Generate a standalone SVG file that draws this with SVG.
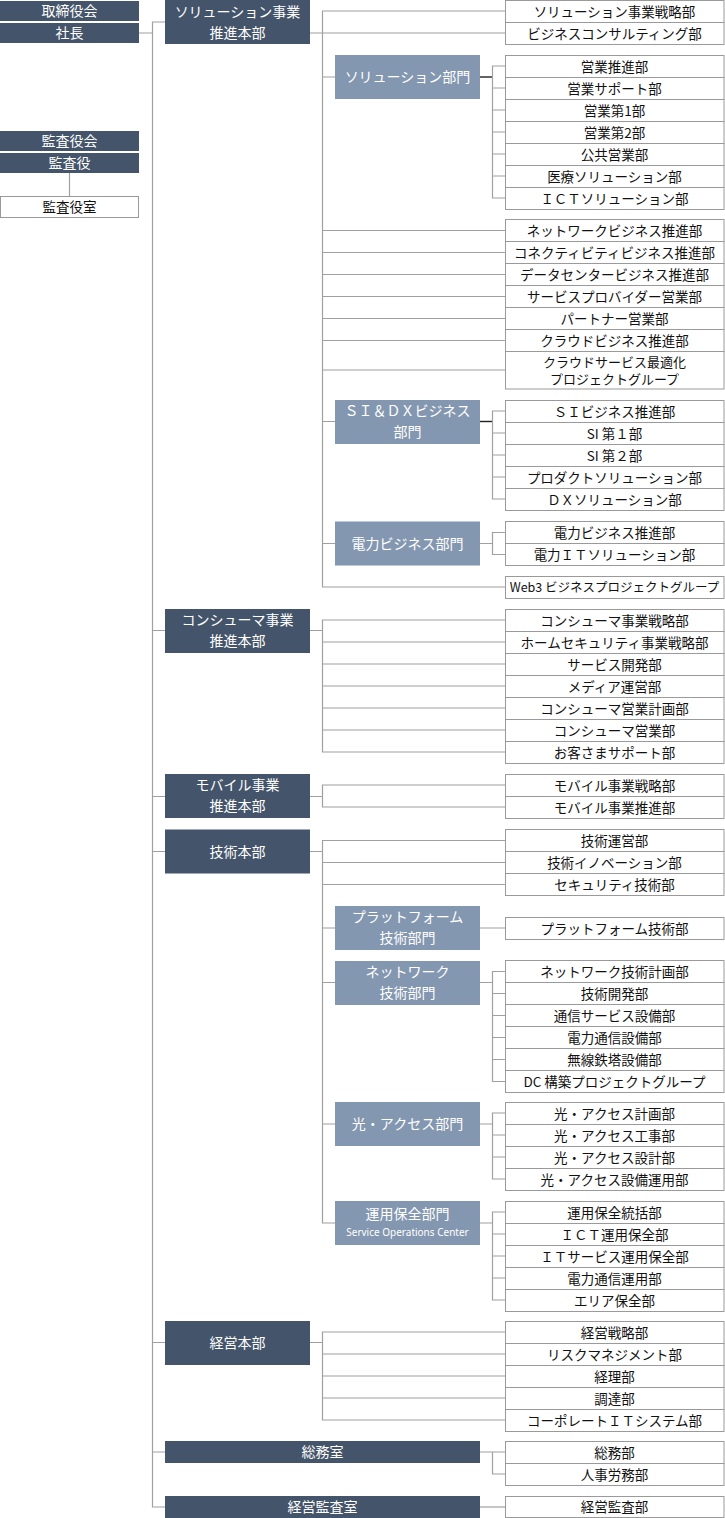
<svg xmlns="http://www.w3.org/2000/svg" width="725" height="1518" viewBox="0 0 725 1518">
<style>
text{font-family:"Noto Sans CJK JP","Noto Sans",sans-serif;text-anchor:middle;dominant-baseline:central;transform:translateY(-1px)}
.d{fill:#44546a}
.l{fill:#8497b0}
.w{fill:#fff;stroke:#9a9a9a;stroke-width:1}
.tw{fill:#fff;font-size:14px}
.tb{fill:#111;font-size:13.5px}
.tn{fill:#111;font-size:12.5px}
.t2{fill:#111;font-size:13px}
.ts{fill:#fff;font-size:10px;font-family:"Noto Sans","Open Sans",sans-serif}
.ln{fill:none;stroke:#a0a0a0;stroke-width:1.2}
.dk{fill:none;stroke:#222;stroke-width:1.4}
</style>
<rect width="725" height="1518" fill="#fff"/>
<g id="connectors">
<path class="ln" d="M139 33H152.5M165 22H152.5V1507H165M152.5 630.5H165M152.5 796.5H165M152.5 851.5H165M152.5 1342.5H165M152.5 1452H165"/>
<path class="ln" d="M69.5 173V196"/>
<path class="ln" d="M505 11H322.5V587H505M310 33H505M322.5 77H335M322.5 230.5H505M322.5 252.5H505M322.5 274.5H505M322.5 296.5H505M322.5 318.5H505M322.5 340.5H505M322.5 370H505M322.5 421.5H335M322.5 543.5H335"/>
<path class="dk" d="M480 77H492.5"/>
<path class="ln" d="M505 66H492.5V198H505M492.5 88H505M492.5 110H505M492.5 132H505M492.5 154H505M492.5 176H505"/>
<path class="dk" d="M480 421.5H492.5"/>
<path class="ln" d="M505 411H492.5V499H505M492.5 433H505M492.5 455H505M492.5 477H505"/>
<path class="ln" d="M480 543.5H492.5M505 532.5H492.5V554.5H505"/>
<path class="ln" d="M310 630.5H322.5M505 620H322.5V752H505M322.5 642H505M322.5 664H505M322.5 686H505M322.5 708H505M322.5 730H505"/>
<path class="ln" d="M310 796.5H322.5M505 785H322.5V807H505"/>
<path class="ln" d="M310 851.5H322.5M505 840.5H322.5V1223H335M322.5 862.5H505M322.5 884.5H505M322.5 928H335M322.5 982.5H335M322.5 1124H335M480 928H505"/>
<path class="ln" d="M480 982.5H492.5M505 971.5H492.5V1081.5H505M492.5 993.5H505M492.5 1015.5H505M492.5 1037.5H505M492.5 1059.5H505"/>
<path class="ln" d="M480 1124H492.5M505 1113H492.5V1179H505M492.5 1135H505M492.5 1157H505"/>
<path class="ln" d="M480 1223H492.5M505 1212H492.5V1300H505M492.5 1234H505M492.5 1256H505M492.5 1278H505"/>
<path class="ln" d="M310 1342.5H322.5M505 1332H322.5V1420H505M322.5 1354H505M322.5 1376H505M322.5 1398H505"/>
<path class="ln" d="M480 1452H505M492.5 1452V1474H505"/>
<path class="ln" d="M480 1507H505"/>
</g>
<g id="torishimariyakukai"><rect class="d" x="0" y="1" width="139" height="20"/><text class="tw" x="69.5" y="11">取締役会</text></g>
<g id="shacho"><rect class="d" x="0" y="23" width="139" height="20"/><text class="tw" x="69.5" y="33">社長</text></g>
<g id="kansayakukai"><rect class="d" x="0" y="131" width="139" height="20"/><text class="tw" x="69.5" y="141">監査役会</text></g>
<g id="kansayaku"><rect class="d" x="0" y="153" width="139" height="20"/><text class="tw" x="69.5" y="163">監査役</text></g>
<g id="kansayakushitsu"><rect class="w" x="0.5" y="196.5" width="138" height="21"/><text class="tb" x="69.5" y="207">監査役室</text></g>

<g id="sol-hq"><rect class="d" x="165" y="0" width="145" height="44"/><text class="tw" x="237.5" y="11.5">ソリューション事業</text><text class="tw" x="237.5" y="32.5">推進本部</text></g>
<g id="sol-c1"><rect class="w" x="505.5" y="0.5" width="218.5" height="22"/><text class="tb" x="614.5" y="11.5">ソリューション事業戦略部</text></g>
<g id="sol-c2"><rect class="w" x="505.5" y="22.5" width="218.5" height="22"/><text class="tb" x="614.5" y="33.5">ビジネスコンサルティング部</text></g>

<g id="sol-div"><rect class="l" x="335" y="55" width="145" height="44"/><text class="tw" x="407.5" y="77">ソリューション部門</text></g>
<g id="sol-div-c1"><rect class="w" x="505.5" y="55.5" width="218.5" height="22"/><text class="tb" x="614.5" y="66.5">営業推進部</text></g>
<g id="sol-div-c2"><rect class="w" x="505.5" y="77.5" width="218.5" height="22"/><text class="tb" x="614.5" y="88.5">営業サポート部</text></g>
<g id="sol-div-c3"><rect class="w" x="505.5" y="99.5" width="218.5" height="22"/><text class="tb" x="614.5" y="110.5">営業第1部</text></g>
<g id="sol-div-c4"><rect class="w" x="505.5" y="121.5" width="218.5" height="22"/><text class="tb" x="614.5" y="132.5">営業第2部</text></g>
<g id="sol-div-c5"><rect class="w" x="505.5" y="143.5" width="218.5" height="22"/><text class="tb" x="614.5" y="154.5">公共営業部</text></g>
<g id="sol-div-c6"><rect class="w" x="505.5" y="165.5" width="218.5" height="22"/><text class="tb" x="614.5" y="176.5">医療ソリューション部</text></g>
<g id="sol-div-c7"><rect class="w" x="505.5" y="187.5" width="218.5" height="22"/><text class="tb" x="614.5" y="198.5">ＩＣＴソリューション部</text></g>

<g id="sol-m1"><rect class="w" x="505.5" y="219.5" width="218.5" height="22"/><text class="tb" x="614.5" y="230.5">ネットワークビジネス推進部</text></g>
<g id="sol-m2"><rect class="w" x="505.5" y="241.5" width="218.5" height="22"/><text class="tb" x="614.5" y="252.5">コネクティビティビジネス推進部</text></g>
<g id="sol-m3"><rect class="w" x="505.5" y="263.5" width="218.5" height="22"/><text class="tb" x="614.5" y="274.5">データセンタービジネス推進部</text></g>
<g id="sol-m4"><rect class="w" x="505.5" y="285.5" width="218.5" height="22"/><text class="tb" x="614.5" y="296.5">サービスプロバイダー営業部</text></g>
<g id="sol-m5"><rect class="w" x="505.5" y="307.5" width="218.5" height="22"/><text class="tb" x="614.5" y="318.5">パートナー営業部</text></g>
<g id="sol-m6"><rect class="w" x="505.5" y="329.5" width="218.5" height="22"/><text class="tb" x="614.5" y="340.5">クラウドビジネス推進部</text></g>
<g id="sol-m7"><rect class="w" x="505.5" y="351.5" width="218.5" height="37.5"/><text class="t2" x="614.5" y="362">クラウドサービス最適化</text><text class="t2" x="614.5" y="379">プロジェクトグループ</text></g>

<g id="sidx-div"><rect class="l" x="335" y="400" width="145" height="44"/><text class="tw" x="407.5" y="410.5">ＳＩ＆ＤＸビジネス</text><text class="tw" x="407.5" y="431.5">部門</text></g>
<g id="sidx-c1"><rect class="w" x="505.5" y="400.5" width="218.5" height="22"/><text class="tb" x="614.5" y="411.5">ＳＩビジネス推進部</text></g>
<g id="sidx-c2"><rect class="w" x="505.5" y="422.5" width="218.5" height="22"/><text class="tb" x="614.5" y="433.5">SI 第１部</text></g>
<g id="sidx-c3"><rect class="w" x="505.5" y="444.5" width="218.5" height="22"/><text class="tb" x="614.5" y="455.5">SI 第２部</text></g>
<g id="sidx-c4"><rect class="w" x="505.5" y="466.5" width="218.5" height="22"/><text class="tb" x="614.5" y="477.5">プロダクトソリューション部</text></g>
<g id="sidx-c5"><rect class="w" x="505.5" y="488.5" width="218.5" height="22"/><text class="tb" x="614.5" y="499.5">ＤＸソリューション部</text></g>

<g id="denryoku-div"><rect class="l" x="335" y="521.5" width="145" height="44"/><text class="tw" x="407.5" y="543.5">電力ビジネス部門</text></g>
<g id="denryoku-c1"><rect class="w" x="505.5" y="521.5" width="218.5" height="22"/><text class="tb" x="614.5" y="532.5">電力ビジネス推進部</text></g>
<g id="denryoku-c2"><rect class="w" x="505.5" y="543.5" width="218.5" height="22"/><text class="tb" x="614.5" y="554.5">電力ＩＴソリューション部</text></g>
<g id="web3"><rect class="w" x="505.5" y="576.5" width="218.5" height="22"/><text class="tn" x="614.5" y="587.5">Web3 ビジネスプロジェクトグループ</text></g>

<g id="consumer-hq"><rect class="d" x="165" y="609" width="145" height="44"/><text class="tw" x="237.5" y="620">コンシューマ事業</text><text class="tw" x="237.5" y="641">推進本部</text></g>
<g id="con-c1"><rect class="w" x="505.5" y="609.5" width="218.5" height="22"/><text class="tb" x="614.5" y="620.5">コンシューマ事業戦略部</text></g>
<g id="con-c2"><rect class="w" x="505.5" y="631.5" width="218.5" height="22"/><text class="tb" x="614.5" y="642.5">ホームセキュリティ事業戦略部</text></g>
<g id="con-c3"><rect class="w" x="505.5" y="653.5" width="218.5" height="22"/><text class="tb" x="614.5" y="664.5">サービス開発部</text></g>
<g id="con-c4"><rect class="w" x="505.5" y="675.5" width="218.5" height="22"/><text class="tb" x="614.5" y="686.5">メディア運営部</text></g>
<g id="con-c5"><rect class="w" x="505.5" y="697.5" width="218.5" height="22"/><text class="tb" x="614.5" y="708.5">コンシューマ営業計画部</text></g>
<g id="con-c6"><rect class="w" x="505.5" y="719.5" width="218.5" height="22"/><text class="tb" x="614.5" y="730.5">コンシューマ営業部</text></g>
<g id="con-c7"><rect class="w" x="505.5" y="741.5" width="218.5" height="22"/><text class="tb" x="614.5" y="752.5">お客さまサポート部</text></g>

<g id="mobile-hq"><rect class="d" x="165" y="774" width="145" height="44"/><text class="tw" x="237.5" y="785">モバイル事業</text><text class="tw" x="237.5" y="806">推進本部</text></g>
<g id="mob-c1"><rect class="w" x="505.5" y="774.5" width="218.5" height="22"/><text class="tb" x="614.5" y="785.5">モバイル事業戦略部</text></g>
<g id="mob-c2"><rect class="w" x="505.5" y="796.5" width="218.5" height="22"/><text class="tb" x="614.5" y="807.5">モバイル事業推進部</text></g>

<g id="tech-hq"><rect class="d" x="165" y="829.5" width="145" height="44"/><text class="tw" x="237.5" y="851.5">技術本部</text></g>
<g id="tech-c1"><rect class="w" x="505.5" y="829.5" width="218.5" height="22"/><text class="tb" x="614.5" y="840.5">技術運営部</text></g>
<g id="tech-c2"><rect class="w" x="505.5" y="851.5" width="218.5" height="22"/><text class="tb" x="614.5" y="862.5">技術イノベーション部</text></g>
<g id="tech-c3"><rect class="w" x="505.5" y="873.5" width="218.5" height="22"/><text class="tb" x="614.5" y="884.5">セキュリティ技術部</text></g>

<g id="pf-div"><rect class="l" x="335" y="906" width="145" height="44"/><text class="tw" x="407.5" y="917">プラットフォーム</text><text class="tw" x="407.5" y="938">技術部門</text></g>
<g id="pf-c1"><rect class="w" x="505.5" y="917.5" width="218.5" height="22"/><text class="tb" x="614.5" y="928.5">プラットフォーム技術部</text></g>

<g id="nw-div"><rect class="l" x="335" y="961" width="145" height="44"/><text class="tw" x="407.5" y="971.5">ネットワーク</text><text class="tw" x="407.5" y="992.5">技術部門</text></g>
<g id="nw-c1"><rect class="w" x="505.5" y="960.5" width="218.5" height="22"/><text class="tb" x="614.5" y="971.5">ネットワーク技術計画部</text></g>
<g id="nw-c2"><rect class="w" x="505.5" y="982.5" width="218.5" height="22"/><text class="tb" x="614.5" y="993.5">技術開発部</text></g>
<g id="nw-c3"><rect class="w" x="505.5" y="1004.5" width="218.5" height="22"/><text class="tb" x="614.5" y="1015.5">通信サービス設備部</text></g>
<g id="nw-c4"><rect class="w" x="505.5" y="1026.5" width="218.5" height="22"/><text class="tb" x="614.5" y="1037.5">電力通信設備部</text></g>
<g id="nw-c5"><rect class="w" x="505.5" y="1048.5" width="218.5" height="22"/><text class="tb" x="614.5" y="1059.5">無線鉄塔設備部</text></g>
<g id="nw-c6"><rect class="w" x="505.5" y="1070.5" width="218.5" height="22"/><text class="tb" x="614.5" y="1081.5">DC 構築プロジェクトグループ</text></g>

<g id="hikari-div"><rect class="l" x="335" y="1102" width="145" height="44"/><text class="tw" x="407.5" y="1124">光・アクセス部門</text></g>
<g id="hikari-c1"><rect class="w" x="505.5" y="1102.5" width="218.5" height="22"/><text class="tb" x="614.5" y="1113.5">光・アクセス計画部</text></g>
<g id="hikari-c2"><rect class="w" x="505.5" y="1124.5" width="218.5" height="22"/><text class="tb" x="614.5" y="1135.5">光・アクセス工事部</text></g>
<g id="hikari-c3"><rect class="w" x="505.5" y="1146.5" width="218.5" height="22"/><text class="tb" x="614.5" y="1157.5">光・アクセス設計部</text></g>
<g id="hikari-c4"><rect class="w" x="505.5" y="1168.5" width="218.5" height="22"/><text class="tb" x="614.5" y="1179.5">光・アクセス設備運用部</text></g>

<g id="soc-div"><rect class="l" x="335" y="1201" width="145" height="44"/><text class="tw" x="407.5" y="1213.5">運用保全部門</text><text class="ts" x="407.5" y="1232.5">Service Operations Center</text></g>
<g id="soc-c1"><rect class="w" x="505.5" y="1201.5" width="218.5" height="22"/><text class="tb" x="614.5" y="1212.5">運用保全統括部</text></g>
<g id="soc-c2"><rect class="w" x="505.5" y="1223.5" width="218.5" height="22"/><text class="tb" x="614.5" y="1234.5">ＩＣＴ運用保全部</text></g>
<g id="soc-c3"><rect class="w" x="505.5" y="1245.5" width="218.5" height="22"/><text class="tb" x="614.5" y="1256.5">ＩＴサービス運用保全部</text></g>
<g id="soc-c4"><rect class="w" x="505.5" y="1267.5" width="218.5" height="22"/><text class="tb" x="614.5" y="1278.5">電力通信運用部</text></g>
<g id="soc-c5"><rect class="w" x="505.5" y="1289.5" width="218.5" height="22"/><text class="tb" x="614.5" y="1300.5">エリア保全部</text></g>

<g id="keiei-hq"><rect class="d" x="165" y="1321" width="145" height="44"/><text class="tw" x="237.5" y="1343">経営本部</text></g>
<g id="keiei-c1"><rect class="w" x="505.5" y="1321.5" width="218.5" height="22"/><text class="tb" x="614.5" y="1332.5">経営戦略部</text></g>
<g id="keiei-c2"><rect class="w" x="505.5" y="1343.5" width="218.5" height="22"/><text class="tb" x="614.5" y="1354.5">リスクマネジメント部</text></g>
<g id="keiei-c3"><rect class="w" x="505.5" y="1365.5" width="218.5" height="22"/><text class="tb" x="614.5" y="1376.5">経理部</text></g>
<g id="keiei-c4"><rect class="w" x="505.5" y="1387.5" width="218.5" height="22"/><text class="tb" x="614.5" y="1398.5">調達部</text></g>
<g id="keiei-c5"><rect class="w" x="505.5" y="1409.5" width="218.5" height="22"/><text class="tb" x="614.5" y="1420.5">コーポレートＩＴシステム部</text></g>

<g id="somu-shitsu"><rect class="d" x="165" y="1441" width="315" height="22"/><text class="tw" x="322.5" y="1452">総務室</text></g>
<g id="somu-c1"><rect class="w" x="505.5" y="1441.5" width="218.5" height="22"/><text class="tb" x="614.5" y="1452.5">総務部</text></g>
<g id="somu-c2"><rect class="w" x="505.5" y="1463.5" width="218.5" height="22"/><text class="tb" x="614.5" y="1474.5">人事労務部</text></g>

<g id="keiei-kansa-shitsu"><rect class="d" x="165" y="1496" width="315" height="22"/><text class="tw" x="322.5" y="1507">経営監査室</text></g>
<g id="keiei-kansa-c1"><rect class="w" x="505.5" y="1496.5" width="218.5" height="21"/><text class="tb" x="614.5" y="1507">経営監査部</text></g>
</svg>
